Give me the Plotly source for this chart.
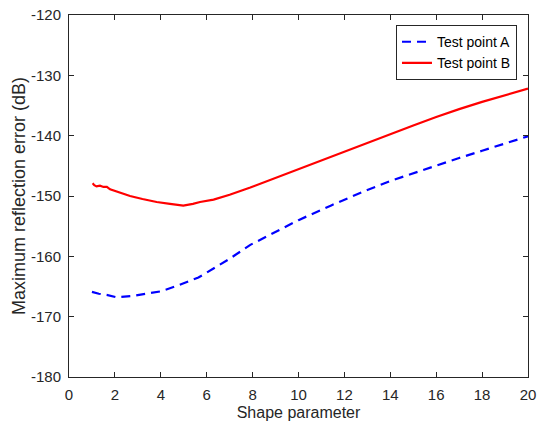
import plotly.graph_objects as go

x_a = [1.0, 1.3, 1.64, 2.08, 2.7, 3.39, 4.0, 4.7, 5.05, 5.64, 6.0, 7.0, 7.9, 9.0, 10.0, 11.4, 12.0, 13.0, 14.0, 15.0, 16.0, 16.6, 17.0, 18.0, 19.0, 20.0]
y_a = [-165.9, -166.2, -166.4, -166.8, -166.6, -166.2, -165.8, -164.9, -164.4, -163.5, -162.7, -160.4, -158.1, -155.9, -154.0, -151.6, -150.6, -149.0, -147.5, -146.2, -144.9, -144.1, -143.7, -142.5, -141.3, -140.1]

x_b = [1.03, 1.1, 1.2, 1.35, 1.5, 1.65, 1.79, 2.2, 2.66, 3.2, 3.82, 4.4, 4.98, 5.4, 5.71, 6.3, 7.0, 7.9, 9.0, 10.0, 11.4, 12.0, 13.0, 14.0, 15.0, 16.0, 16.6, 17.0, 18.0, 19.0, 20.0]
y_b = [-147.9, -148.2, -148.4, -148.3, -148.5, -148.5, -148.9, -149.4, -150.0, -150.5, -151.0, -151.3, -151.6, -151.3, -151.0, -150.6, -149.8, -148.6, -147.0, -145.5, -143.5, -142.6, -141.1, -139.7, -138.3, -136.9, -136.1, -135.6, -134.4, -133.3, -132.2]

series_names = ["Test point A", "Test point B"]

x_tickvals = [0, 2, 4, 6, 8, 10, 12, 14, 16, 18, 20]
x_ticktext = ["0", "2", "4", "6", "8", "10", "12", "14", "16", "18", "20"]
y_tickvals = [-180, -170, -160, -150, -140, -130, -120]
y_ticktext = ["-180", "-170", "-160", "-150", "-140", "-130", "-120"]

FONT = "Liberation Sans, Arial, sans-serif"

fig = go.Figure()
fig.add_trace(go.Scatter(x=x_a, y=y_a, mode="lines", name=series_names[0],
                         line=dict(color="#0000ff", width=2.2, dash="9px,6px")))
fig.add_trace(go.Scatter(x=x_b, y=y_b, mode="lines", name=series_names[1],
                         line=dict(color="#ff0000", width=2.2)))

axis_common = dict(showgrid=False, zeroline=False, showline=True, linecolor="#262626",
                   linewidth=1, mirror="ticks", ticks="inside", ticklen=5, tickcolor="#262626",
                   automargin=False,
                   tickfont=dict(family=FONT, size=15, color="#262626"))

fig.update_layout(
    width=537, height=424,
    margin=dict(l=69, r=9, t=15, b=47, autoexpand=False),
    paper_bgcolor="white", plot_bgcolor="white",
    font=dict(family=FONT, color="#262626"),
    xaxis=dict(range=[0, 20], tickvals=x_tickvals, ticktext=x_ticktext, ticklabelstandoff=4,
               title=dict(text="Shape parameter", font=dict(size=16), standoff=4), **axis_common),
    yaxis=dict(range=[-180, -120], tickvals=y_tickvals, ticktext=y_ticktext, ticklabelstandoff=4,
               title=dict(text="Maximum reflection error (dB)", font=dict(size=18), standoff=0), **axis_common),
    legend=dict(x=0.976, y=0.972, xanchor="right", yanchor="top", bgcolor="white",
                bordercolor="#262626", borderwidth=1, font=dict(family=FONT, size=14, color="#000000"),
                tracegroupgap=0, itemwidth=30),
    showlegend=True,
)

fig.write_html("out.html")
